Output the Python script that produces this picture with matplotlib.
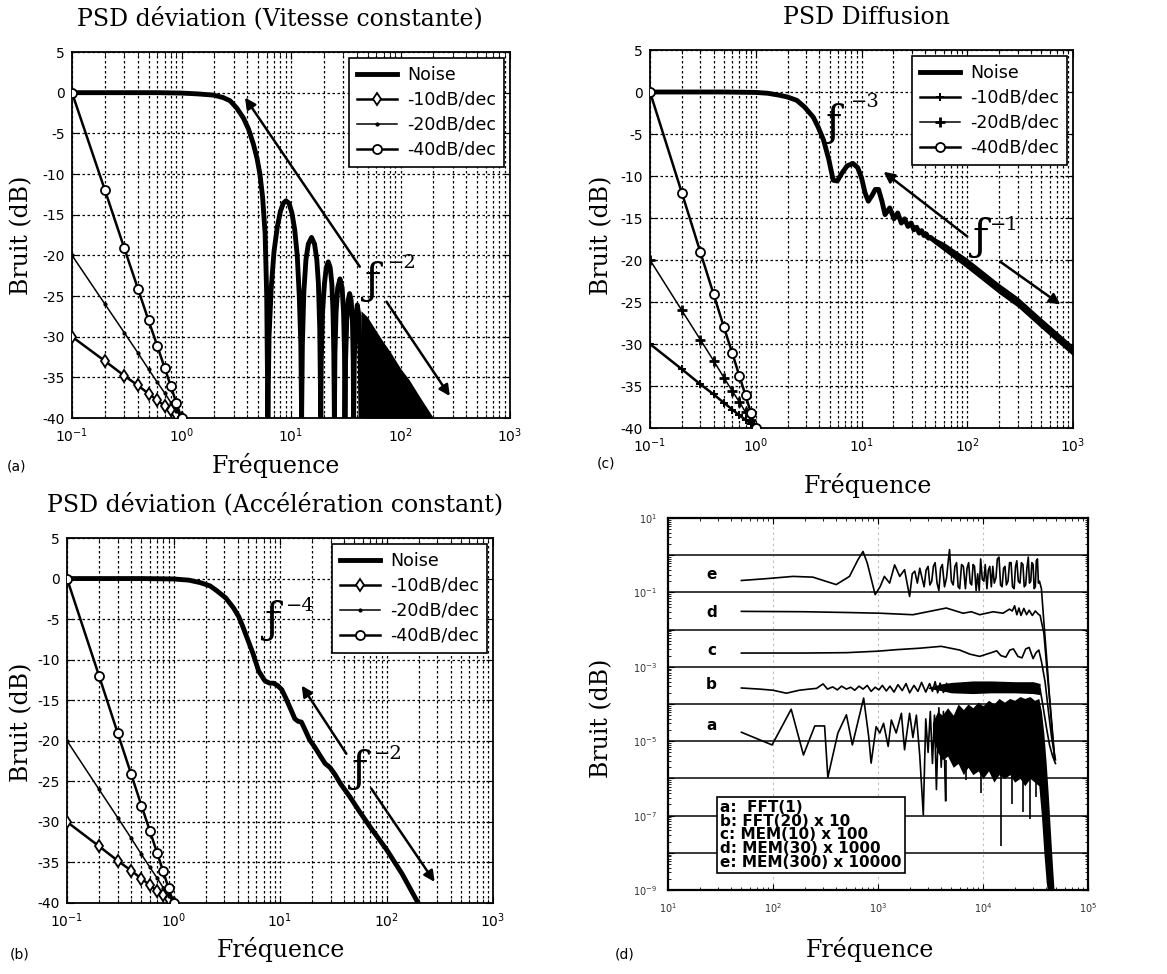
import numpy as np
import matplotlib
matplotlib.use('Agg')
import matplotlib.pyplot as plt
from matplotlib.ticker import LogLocator, NullFormatter, FixedLocator, FixedFormatter

plt.rcParams['axes.unicode_minus'] = False
plt.rcParams['font.family'] = ['DejaVu Sans']

# ---------------- data ----------------
ref_f = [0.1, 0.2, 0.3, 0.4, 0.5, 0.6, 0.7, 0.8, 0.9, 1.0]
ref_10 = [-30, -33.0, -34.8, -36.0, -37.0, -37.8, -38.5, -39.0, -39.5, -40]
ref_20 = [-20, -26.0, -29.5, -32.0, -34.0, -35.6, -36.9, -38.1, -39.1, -40]
ref_40 = [0, -12.0, -19.1, -24.1, -28.0, -31.1, -33.8, -36.1, -38.2, -40]
y_ticks = [-40, -35, -30, -25, -20, -15, -10, -5, 0, 5]

# (a) vitesse constante
noise_a_f = [0.1, 0.3, 0.6, 1.0, 1.4, 1.96, 2.4, 2.78, 3.2, 3.67, 4.1, 4.53, 4.9, 5.2, 5.5, 5.8, 6.0, 6.15,
             6.3, 6.6, 7.0, 7.5, 8.0, 8.5, 9.0, 9.6, 10.2, 10.8, 11.4, 11.9, 12.3, 12.5,
             12.7, 13.1, 13.7, 14.4, 15.4, 16.4, 17.2, 17.8, 18.3, 18.7,
             18.9, 19.4, 20.2, 21.0, 21.9, 22.8, 23.6, 24.2, 24.6, 24.9,
             25.2, 25.8, 26.7, 28.0, 29.3, 30.2, 30.8, 31.1,
             31.5, 32.3, 33.3, 34.3, 35.4, 36.4, 37.0, 37.3,
             37.8, 38.8, 40.3, 41.8, 42.9, 43.5]
noise_a_db = [0, 0, 0, -0.05, -0.15, -0.3, -0.6, -1.0, -1.9, -3.1, -4.5, -6.3, -8.1, -10.0, -12.8, -17.3, -25.0, -40,
              -30, -24, -19.5, -16.5, -14.6, -13.6, -13.3, -13.6, -14.8, -16.8, -20, -25, -31, -40,
              -31, -24.5, -20.5, -18.6, -17.8, -18.6, -20.5, -23.5, -29, -40,
              -33, -27, -23.5, -21.5, -20.8, -21.5, -23.5, -27, -32, -40,
              -32, -27, -24, -22.9, -24, -27, -32, -40,
              -33, -28, -25.5, -24.7, -25.5, -28, -33, -40,
              -33, -28, -26.1, -27.5, -33, -40]
env_a_f = [43.5, 50, 60, 70, 80, 100, 120, 150, 200]
env_a_db = [-26.8, -27.6, -29.3, -30.7, -31.8, -33.9, -35.3, -37.4, -40]

# (b) acceleration constante
noise_b_f = [0.1, 0.5, 1.0, 1.4, 1.78, 2.2, 2.55, 3.1, 3.65, 4.1, 4.5, 5.0, 5.6, 6.3, 7.2, 8.0, 8.7, 9.5, 10.4,
             11.4, 12.4, 13.8, 14.8, 15.9, 17.4, 19.0, 21.0, 23.7, 26.5, 29.5, 33, 37, 45.3, 55, 70, 100, 140, 198]
noise_b_db = [0, 0, -0.05, -0.2, -0.5, -0.9, -1.5, -2.4, -3.6, -4.7, -6.0, -7.6, -9.3, -11.4, -12.6, -12.9, -12.9,
              -13.2, -13.7, -14.8, -15.9, -17.3, -17.6, -17.7, -18.8, -19.9, -20.7, -21.8, -22.8, -23.3, -24.2,
              -25.3, -26.9, -28.6, -30.6, -33.4, -36.4, -40]

# (c) diffusion
noise_c_f = [0.1, 0.5, 1.0, 1.3, 1.7, 2.0, 2.45, 2.9, 3.5, 3.9, 4.37, 4.9, 5.4, 5.9, 6.5, 7.3, 8.3, 9.2, 10.0,
             10.8, 11.6, 12.6, 13.5, 14.5, 15.6, 16.7, 18.5, 20.3, 22.0, 23.8, 25.6, 27.5, 29.4, 31.3, 33.2,
             35.1, 37.0, 39.0, 41.0, 43.0, 45.0, 50, 70, 100, 200, 300, 500, 1000]
noise_c_db = [0, 0, -0.05, -0.15, -0.4, -0.6, -1.0, -1.8, -3.0, -4.2, -5.7, -8.0, -10.5, -10.6, -9.7, -8.8, -8.5,
              -9.0, -10.2, -12.0, -13.0, -12.3, -11.6, -11.6, -13.0, -14.6, -13.8, -15.1, -14.4, -15.6, -15.1,
              -16.0, -15.6, -16.4, -16.1, -16.8, -16.5, -17.1, -16.9, -17.4, -17.3, -17.8, -19.0, -20.4,
              -23.4, -25.0, -27.5, -30.8]
band_c_f = [40, 60, 100, 200, 300, 500, 1000]
band_c_hi = [-16.8, -17.9, -19.8, -22.8, -24.4, -26.9, -30.2]
band_c_lo = [-17.2, -18.9, -21.0, -24.0, -25.6, -28.1, -31.4]

# (d) spectra, values as log10
e_x = [50, 87, 155, 240, 400, 535, 645, 720, 790, 940, 1050, 1150, 1290, 1440, 1610, 1790, 2000, 2120, 2240,
       2370, 2500, 2620, 2750, 2870, 3000, 3120, 3250, 3370, 3500, 3650, 3800, 3950, 4100, 4300, 4500, 4650,
       4800, 5000, 5200, 5400, 5600, 5800, 6000, 6250, 6500, 6800, 7050, 7300, 7550, 7800, 8050, 8300, 8600,
       8900, 9200, 9500, 9850, 10200, 10500, 10900, 11250, 11600, 12000, 12400, 12800, 13300, 13700, 14200,
       14700, 15200, 15700, 16200, 16700, 17300, 17900, 18500, 19100, 19800, 20400, 21000, 21700, 22500,
       23200, 24000, 24700, 25500, 26200, 27000, 27700, 28500, 29200, 30000, 30700, 31500, 32200, 33000,
       33700, 34500, 36000, 38000, 41000, 44000, 48000]
e_y = [-0.68, -0.63, -0.57, -0.59, -0.79, -0.57, -0.12, 0.10, -0.21, -1.06, -0.84, -0.57, -0.75, -0.26, -0.57,
       -0.39, -1.11, -0.50, -0.43, -0.75, -0.35, -0.60, -0.85, -0.40, -0.30, -0.80, -0.70, -0.30, -0.20, -0.75,
       -0.95, -0.35, -0.25, -0.85, -0.60, -0.20, 0.15, -0.70, -0.80, -0.30, -0.20, -0.85, -0.90, -0.25,
       -0.30, -0.90, -0.35, -0.20, -0.75, -0.80, -0.25, -0.30, -0.95, -0.50, -0.95, -0.10, -0.65, -0.70,
       -0.25, -0.90, -0.40, -0.30, -0.85, -0.30, -0.75, -0.60, -0.10, -0.05, -0.80, -0.85, -0.35, -0.30,
       -0.80, -0.70, -0.20, -0.20, -0.85, -0.90, -0.30, -0.15, -0.70, -0.75, -0.20, -0.25, -0.85, -0.80,
       -0.35, -0.05, -0.75, -0.70, -0.20, -0.25, -0.90, -0.85, -0.15, -0.10, -0.75, -0.70, -0.9, -1.8,
       -3.0, -4.2, -5.5]
d_x = [50, 200, 500, 1050, 2150, 3100, 4470, 6460, 7750, 9300, 12500, 15500, 17900, 19000, 20000, 21000, 22000,
       23000, 24500, 26000, 27500, 29500, 31500, 33500, 35000, 38000, 41000, 44500, 48000]
d_y = [-1.51, -1.52, -1.54, -1.56, -1.60, -1.51, -1.42, -1.56, -1.52, -1.60, -1.52, -1.56, -1.45, -1.50, -1.36,
       -1.60, -1.42, -1.62, -1.43, -1.60, -1.48, -1.62, -1.50, -1.58, -1.62, -2.1, -3.2, -4.3, -5.4]
c_x = [50, 200, 500, 1000, 1490, 2500, 4000, 6000, 7500, 9300, 12000, 13500, 14800, 16500, 18000, 19500, 21500,
       23500, 25500, 27500, 30000, 32000, 34000, 36000, 39000, 42000, 45000, 49000]
c_y = [-2.63, -2.63, -2.62, -2.58, -2.54, -2.50, -2.45, -2.55, -2.66, -2.72, -2.62, -2.57, -2.70, -2.74, -2.55,
       -2.52, -2.72, -2.76, -2.52, -2.48, -2.78, -2.62, -2.55, -2.85, -3.4, -4.2, -4.9, -5.5]
b_x = [50, 75, 100, 134, 178, 220, 260, 300, 330, 370, 410, 450, 500, 550, 600, 660, 720, 790, 860, 940, 1020,
       1100, 1200, 1300, 1420, 1550, 1700, 1850, 2000, 2200, 2400, 2600, 2850, 3100, 3300, 3500, 3700, 3900,
       4200, 4500]
b_y = [-3.57, -3.60, -3.63, -3.71, -3.63, -3.60, -3.58, -3.46, -3.60, -3.54, -3.62, -3.52, -3.60, -3.55, -3.63,
       -3.52, -3.60, -3.50, -3.66, -3.55, -3.62, -3.50, -3.65, -3.52, -3.68, -3.48, -3.64, -3.45, -3.70, -3.50,
       -3.66, -3.42, -3.68, -3.45, -3.66, -3.40, -3.70, -3.44, -3.69, -3.45]
b_band_x = [3000, 4000, 5000, 8000, 12000, 20000, 30000, 35000]
b_band_hi = [-3.55, -3.46, -3.42, -3.38, -3.38, -3.40, -3.40, -3.45]
b_band_lo = [-3.58, -3.64, -3.70, -3.72, -3.70, -3.70, -3.72, -3.75]
b_drop_x = [35000, 37000, 40000, 43000, 46000, 49000]
b_drop_y = [-3.6, -4.0, -4.6, -5.1, -5.4, -5.6]
a_x = [50, 98, 149, 195, 250, 310, 333, 415, 500, 570, 730, 815, 860, 960, 1040, 1130, 1250, 1340, 1490, 1670,
       1790, 2000, 2150, 2320, 2500, 2700, 2850, 3000, 3150, 3300, 3450, 3600, 3800, 4000, 4200, 4400]
a_y = [-4.76, -5.10, -4.14, -5.37, -4.59, -4.59, -5.97, -4.78, -4.29, -5.10, -3.84, -4.87, -5.59, -4.61, -4.78,
       -4.52, -5.14, -4.43, -4.78, -4.25, -5.23, -4.25, -4.90, -4.30, -5.40, -6.98, -4.40, -5.30, -4.20, -5.60,
       -4.30, -6.30, -4.10, -5.70, -4.20, -6.60]
a_band_x = [3300, 3700, 4100, 4600, 5200, 5800, 6500, 7200, 8000, 9000, 10000, 11300, 12700, 14200, 16000,
            18000, 20000, 22500, 25000, 28000, 31000, 34000, 36000, 38000, 40000, 42000, 44000, 46000, 48000]
a_band_hi = [-4.5, -4.2, -4.3, -4.1, -4.3, -4.0, -4.15, -4.0, -4.1, -3.95, -4.05, -3.9, -4.0, -3.85, -3.95,
             -3.85, -3.9, -3.8, -3.85, -3.8, -3.9, -3.85, -4.2, -4.8, -5.6, -6.5, -7.5, -8.4, -9.2]
a_band_lo = [-4.9, -5.3, -5.5, -5.4, -5.7, -5.6, -5.9, -5.7, -5.9, -5.8, -6.0, -5.8, -6.1, -5.9, -6.0, -5.9,
             -6.1, -6.0, -6.2, -6.0, -6.1, -6.2, -7.0, -8.0, -8.8, -9.2, -9.2, -9.2, -9.2]
a_spk_x = [4400, 6900, 9500, 14700, 19000, 24000, 28000, 32000]
a_spk_y = [-6.6, -6.04, -6.4, -7.83, -6.7, -6.9, -7.1, -6.5]
curve_lab = ['e', 'd', 'c', 'b', 'a']
curve_lab_y = [-0.52, -1.54, -2.56, -3.48, -4.58]
legend_d = "a:  FFT(1)\nb: FFT(20) x 10\nc: MEM(10) x 100\nd: MEM(30) x 1000\ne: MEM(300) x 10000"

# ---------------- figure ----------------
W, H = 1167, 974
fig = plt.figure(figsize=(W / 100, H / 100), dpi=100)


def rect(l, t, r, b):
    return [l / W, 1 - b / H, (r - l) / W, (b - t) / H]


def ftext(x, y, s, **kw):
    fig.text(x / W, 1 - y / H, s, ha='center', va='center', **kw)


SERIF = 'DejaVu Serif'
gls = (0, (2, 2))


def psd_axes(rpx, nf, ndb, m10, m20, ms10, ms20, mew10, mew20):
    ax = fig.add_axes(rect(*rpx))
    ax.set_xscale('log')
    ax.set_xlim(0.1, 1000)
    ax.set_ylim(-40, 5)
    ax.set_yticks(y_ticks)
    ax.xaxis.set_major_locator(LogLocator(base=10, numticks=10))
    ax.xaxis.set_minor_locator(LogLocator(base=10, subs=np.arange(2, 10), numticks=20))
    ax.xaxis.set_minor_formatter(NullFormatter())
    ax.tick_params(which='both', direction='in', top=True, right=True, labelsize=10)
    ax.tick_params(axis='x', which='major', pad=6)
    ax.tick_params(axis='y', which='major', pad=5)
    ax.tick_params(which='major', length=5)
    ax.tick_params(which='minor', length=3)
    ax.grid(True, which='major', ls=gls, color='k', lw=0.9)
    ax.grid(True, which='minor', axis='x', ls=gls, color='k', lw=0.9)
    for s in ax.spines.values():
        s.set_linewidth(1.3)
    ax.plot(nf, ndb, 'k-', lw=3.5, label='Noise', solid_joinstyle='round', zorder=4)
    ax.plot(ref_f, ref_10, 'k-', marker=m10, ms=ms10, mfc='white', mew=mew10, lw=1.8, label='-10dB/dec', zorder=5)
    ax.plot(ref_f, ref_20, 'k-', marker=m20, ms=ms20, mew=mew20, lw=1.1, label='-20dB/dec', zorder=5)
    ax.plot(ref_f, ref_40, 'k-', marker='o', ms=6.5, mfc='white', mew=1.3, lw=1.8, label='-40dB/dec', zorder=5)
    leg = ax.legend(loc='upper right', fancybox=False, edgecolor='k', framealpha=1, fontsize=12.5,
                    borderaxespad=0.35, handlelength=2.3, labelspacing=0.4, borderpad=0.45, handletextpad=0.6)
    leg.get_frame().set_linewidth(1.2)
    leg.set_zorder(10)
    return ax


def arrow(ax, tail, head):
    ax.annotate('', xy=head, xytext=tail,
                arrowprops=dict(arrowstyle='-|>', color='k', lw=1.8, mutation_scale=16, shrinkA=0, shrinkB=0),
                zorder=6)


def fpow(ax, fx, fy, ex, ey, s):
    ax.text(fx, fy, '\u0192', fontsize=30, family=SERIF, ha='center', va='center', zorder=7)
    ax.text(ex, ey, s, fontsize=14, family=SERIF, ha='center', va='center', zorder=7)


# (a)
axa = psd_axes((72, 52, 510, 418), noise_a_f, noise_a_db, 'd', '.', 6.5, 4, 1.3, 1)
axa.fill_between(env_a_f, env_a_db, -40, color='k', lw=0, zorder=4)
arrow(axa, (42.5, -21.4), (3.8, -0.6))
arrow(axa, (74.5, -25.7), (282, -37.3))
fpow(axa, 56, -23.3, 105, -21.0, '\u22122')

# (c)
axc = psd_axes((650, 50, 1073, 428), noise_c_f, noise_c_db, '+', '+', 6, 7, 1.4, 2)
axc.fill_between(band_c_f, band_c_lo, band_c_hi, color='k', lw=0, zorder=4)
arrow(axc, (100, -17.2), (16.2, -9.5))
arrow(axc, (205, -20.2), (760, -25.3))
fpow(axc, 5.4, -3.8, 10.8, -1.2, '\u22123')
fpow(axc, 133, -17.4, 225, -15.8, '\u22121')

# (b)
axb = psd_axes((67, 538, 493, 903), noise_b_f, noise_b_db, 'd', '.', 6.5, 4, 1.3, 1)
arrow(axb, (42, -21.6), (16, -13.2))
arrow(axb, (72, -25.9), (283, -37.4))
fpow(axb, 8.6, -5.2, 15.5, -3.4, '\u22124')
fpow(axb, 56, -23.6, 103, -21.6, '\u22122')

# (d)
axd = fig.add_axes(rect(668, 518, 1088, 890))
axd.set_xscale('log')
axd.set_yscale('log')
axd.set_xlim(10, 1e5)
axd.set_ylim(1e-9, 10)
dec = [10.0 ** k for k in range(-9, 2)]
axd.yaxis.set_major_locator(FixedLocator(dec))
axd.yaxis.set_major_formatter(FixedFormatter(
    [r'$10^{%d}$' % k if k % 2 else '' for k in range(-9, 2)]))
axd.yaxis.set_minor_locator(LogLocator(base=10, subs=np.arange(2, 10), numticks=30))
axd.yaxis.set_minor_formatter(NullFormatter())
axd.xaxis.set_major_locator(LogLocator(base=10, numticks=10))
axd.xaxis.set_minor_locator(LogLocator(base=10, subs=np.arange(2, 10), numticks=20))
axd.xaxis.set_minor_formatter(NullFormatter())
axd.tick_params(which='both', direction='in', top=True, right=True, labelsize=7, labelcolor='#333333')
axd.tick_params(which='major', length=4, pad=8)
axd.tick_params(which='minor', length=2.5)
axd.grid(True, which='major', axis='y', ls='-', color='#3a3a3a', lw=1.4)
axd.grid(True, which='major', axis='x', ls=(0, (2, 3)), color='#bbbbbb', lw=0.8)
for s in axd.spines.values():
    s.set_linewidth(1.6)


def lg(v):
    return [10.0 ** t for t in v]


axd.plot(e_x, lg(e_y), 'k-', lw=1.2, zorder=4)
axd.plot(d_x, lg(d_y), 'k-', lw=1.2, zorder=4)
axd.plot(c_x, lg(c_y), 'k-', lw=1.2, zorder=4)
axd.plot(b_x, lg(b_y), 'k-', lw=1.2, zorder=4)
axd.fill_between(b_band_x, lg(b_band_lo), lg(b_band_hi), color='k', lw=0, zorder=4)
axd.plot(b_drop_x, lg(b_drop_y), 'k-', lw=1.2, zorder=4)
axd.plot(a_x, lg(a_y), 'k-', lw=1.2, zorder=4)
axd.fill_between(a_band_x, lg(a_band_lo), lg(a_band_hi), color='k', lw=0, zorder=4)
axd.vlines(a_spk_x, lg(a_spk_y), 10.0 ** -5.5, color='k', lw=1.2, zorder=4)
for lab, yv in zip(curve_lab, curve_lab_y):
    axd.text(26, 10.0 ** yv, lab, fontsize=11, fontweight='bold', family='DejaVu Sans',
             ha='center', va='center', zorder=6)
axd.text(0.125, 0.055, legend_d, transform=axd.transAxes, fontsize=11, fontweight='bold',
         family='DejaVu Sans', linespacing=0.88, ha='left', va='bottom', zorder=8,
         bbox=dict(boxstyle='square,pad=0.22', fc='white', ec='k', lw=1.2))

# ---------------- texts ----------------
ftext(280, 18, 'PSD d\u00e9viation (Vitesse constante)', fontsize=17, family=SERIF)
ftext(866, 18, 'PSD Diffusion', fontsize=17, family=SERIF)
ftext(275, 504, 'PSD d\u00e9viation (Acc\u00e9l\u00e9ration constant)', fontsize=17, family=SERIF)
ftext(276, 466, 'Fr\u00e9quence', fontsize=17, family=SERIF)
ftext(868, 486, 'Fr\u00e9quence', fontsize=17, family=SERIF)
ftext(281, 950, 'Fr\u00e9quence', fontsize=17, family=SERIF)
ftext(870, 950, 'Fr\u00e9quence', fontsize=17, family=SERIF)
for (x, y) in [(22, 235), (602, 235), (22, 722), (602, 718)]:
    ftext(x, y, 'Bruit (dB)', fontsize=17, family=SERIF, rotation=90)
ftext(16, 467, '(a)', fontsize=10)
ftext(606, 463, '(c)', fontsize=10)
ftext(20, 955, '(b)', fontsize=10)
ftext(625, 955, '(d)', fontsize=10)

fig.savefig('out.png', dpi=100)
